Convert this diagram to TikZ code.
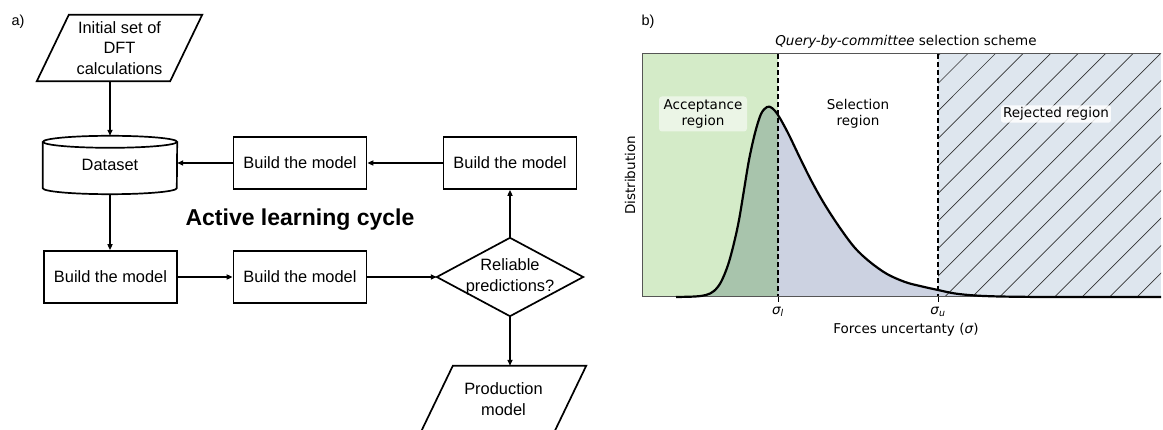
\documentclass[tikz,border=0pt]{standalone}
\usepackage{fontspec}
\setmainfont{Liberation Sans}
\newfontfamily\dvs{DejaVu Sans}
\usetikzlibrary{arrows.meta}
\definecolor{accgreen}{HTML}{D4EBC8}
\definecolor{darkfill}{HTML}{A8C4AC}
\definecolor{midfill}{HTML}{CCD2E1}
\definecolor{rejfill}{HTML}{DEE6EE}
\definecolor{framegray}{HTML}{555555}
\begin{document}
\begin{tikzpicture}[x=1pt,y=-1pt,
  flow/.style={inner sep=0pt, align=center, font=\fontsize{16.4}{20.5}\selectfont},
  box/.style={flow, draw, line width=1.7pt, minimum width=133pt, minimum height=52pt},
  shapeline/.style={line width=1.7pt, line join=miter},
  edge/.style={line width=1.7pt, -{Triangle[length=6pt,width=5pt]}},
  plotlbl/.style={font=\dvs\fontsize{13.5}{15.5}\selectfont, align=center, inner sep=2pt},
  hatchline/.style={line width=0.7pt, draw=black!80},
  sigdash/.style={line width=1.3pt, dash pattern=on 5pt off 3pt}
]
\useasboundingbox (0,0) rectangle (1163,430);

% ---------------- a) flowchart ----------------
\node[font=\fontsize{14.5}{16}\selectfont, anchor=west] (la) at (8,22) {a)};

\node[flow, minimum width=133pt, minimum height=66pt] (init) at (119.5,48) {Initial set of\\DFT\\calculations};
\draw[shapeline] ([xshift=16pt]init.north west) -- ([xshift=16pt]init.north east)
  -- ([xshift=-16pt]init.south east) -- ([xshift=-16pt]init.south west) -- cycle;

\node[flow, minimum width=134pt, minimum height=58pt] (ds) at (110,165) {Dataset};
\draw[shapeline] ([yshift=-6pt]ds.north west) -- ([yshift=6pt]ds.south west)
  arc[start angle=180, end angle=360, x radius=67pt, y radius=6pt]
  -- ([yshift=-6pt]ds.north east);
\draw[shapeline] ([yshift=-6pt]ds.north) ellipse[x radius=67pt, y radius=6pt];

\node[box] (tl) at (300,163) {Build the model};
\node[box] (tr) at (510,163) {Build the model};
\node[box] (bl) at (110.5,277) {Build the model};
\node[box] (bm) at (300,277) {Build the model};

\node[flow, minimum width=146pt, minimum height=78pt] (rel) at (510,277) {Reliable\\predictions?};
\draw[shapeline] (rel.north) -- (rel.east) -- (rel.south) -- (rel.west) -- cycle;

\node[flow, minimum width=133pt, minimum height=66pt] (prod) at (503.5,399) {Production\\model};
\draw[shapeline] ([xshift=16pt]prod.north west) -- ([xshift=16pt]prod.north east)
  -- ([xshift=-16pt]prod.south east) -- ([xshift=-16pt]prod.south west) -- cycle;

\node[font=\bfseries\fontsize{23}{26}\selectfont] (cyc) at (300,220) {Active learning cycle};

\draw[edge] (ds.north |- init.south) -- (ds.north);
\draw[edge] (ds.south) -- (bl.north -| ds.south);
\draw[edge] (bl.east) -- (bm.west);
\draw[edge] (bm.east) -- (rel.west);
\draw[edge] (rel.north) -- (tr.south);
\draw[edge] (tr.west) -- (tl.east);
\draw[edge] (tl.west) -- (tl.west -| ds.east);
\draw[edge] (rel.south) -- (prod.north -| rel.south);

% ---------------- b) plot ----------------
\node[font=\fontsize{14.5}{16}\selectfont, anchor=west] (lb) at (638,22) {b)};

\fill[accgreen] (642,54) rectangle (778,297);
\fill[rejfill] (938,54) rectangle (1161,297);

\def\curve{plot[smooth, tension=0.55] coordinates {(676,297) (695,296.5) (706,295) (714,291) (721,282) (728,265) (734,243) (739,220) (744,190) (749,160) (755,133) (761,114) (767,107) (772,108) (778,115) (788,133) (800,158) (812,182) (825,205) (840,228) (855,248) (870,262) (887,274) (905,282) (920,286) (938,290) (955,293.5) (975,295.5) (1000,296.5) (1040,297)} -- (1161,297)}

\fill[midfill] \curve -- cycle;
\begin{scope}
  \clip (642,40) rectangle (778,297);
  \fill[darkfill] \curve -- cycle;
\end{scope}
\begin{scope}
  \clip (938,54) rectangle (1161,297);
  \foreach \i in {0,...,17} \draw[hatchline] ({697+\i*27.5},297) -- ++(250,-250);
\end{scope}

\draw[sigdash] (778,54) -- (778,297);
\draw[sigdash] (938,54) -- (938,297);
\draw[line width=1pt] (778,297) -- (778,302);
\draw[line width=1pt] (938,297) -- (938,302);

\draw[framegray, line width=1pt] (1161,54) -- (642,54) -- (642,297) -- (1161,297);
\draw[line width=2.2pt, line join=round] \curve;

\node[plotlbl] (title) at (906,42) {\itshape Query-by-committee\upshape{} selection scheme};
\node[plotlbl, fill=white, fill opacity=0.55, text opacity=1, rounded corners=3pt, minimum width=88pt, minimum height=35pt] (acc) at (703,114) {Acceptance\\region};
\node[plotlbl] (sel) at (858,114) {Selection\\region};
\node[plotlbl, fill=white, fill opacity=0.85, text opacity=1, rounded corners=2pt] (rej) at (1056,114) {Rejected region};
\node[plotlbl, rotate=90] (ylab) at (630,175.5) {Distribution};
\node[plotlbl] (sl) at (778,312) {\itshape σ\textsubscript{\itshape l}};
\node[plotlbl] (su) at (938,312) {\itshape σ\textsubscript{\itshape u}};
\node[plotlbl] (xlab) at (906,330) {Forces uncertanty (\textit{σ})};
\end{tikzpicture}
\end{document}
